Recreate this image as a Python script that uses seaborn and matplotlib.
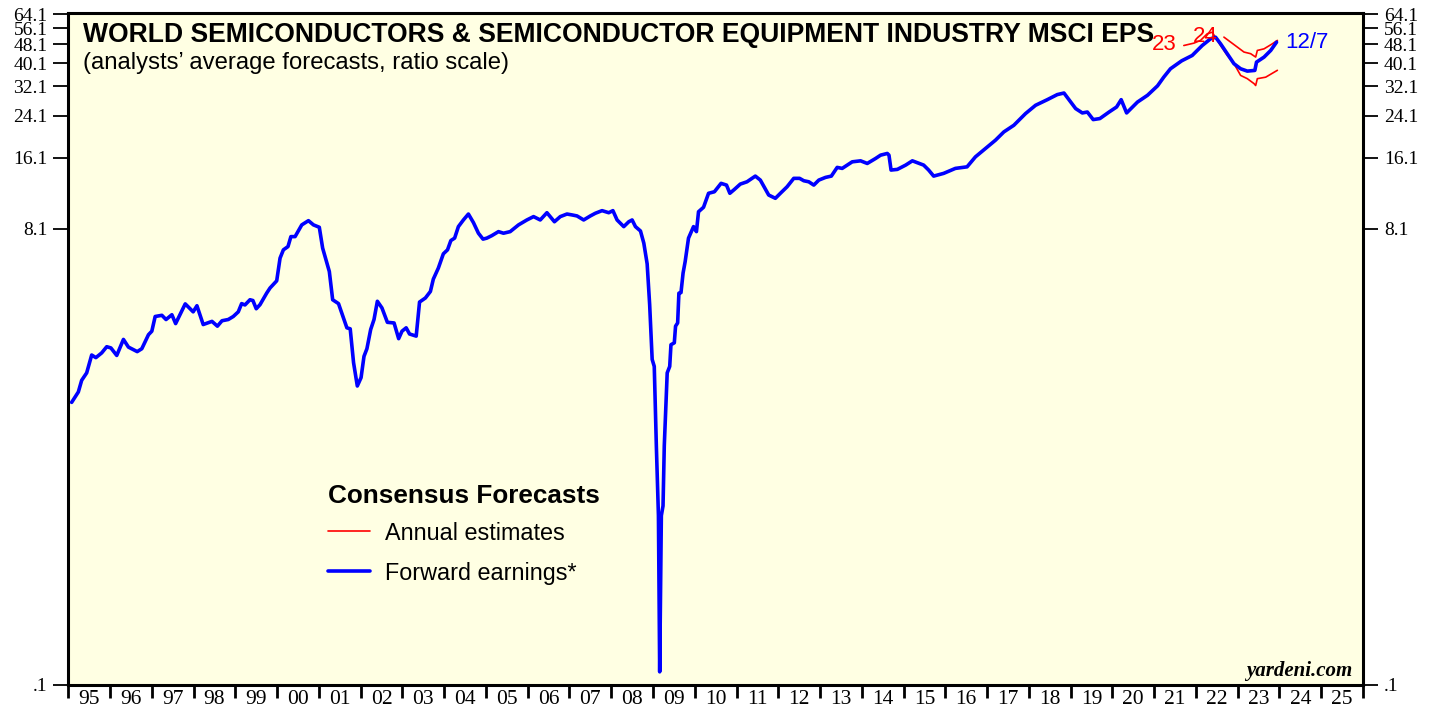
import matplotlib
matplotlib.use("Agg")
import matplotlib.pyplot as plt
import matplotlib.ticker as mticker
from matplotlib.lines import Line2D
import seaborn as sns

# -----------------------------
# Data (ratio scale)
# -----------------------------
fwd_year = [1995.08, 1995.24, 1995.32, 1995.44, 1995.56, 1995.66, 1995.80, 1995.92,
            1996.02, 1996.16, 1996.32, 1996.44, 1996.65, 1996.76, 1996.92,
            1997.00, 1997.08, 1997.24, 1997.34, 1997.48, 1997.57, 1997.80, 1997.99,
            1998.08, 1998.23, 1998.44, 1998.57, 1998.68, 1998.83, 1998.95,
            1999.07, 1999.15, 1999.23, 1999.35, 1999.42, 1999.50, 1999.59, 1999.75, 1999.83, 1999.99,
            2000.07, 2000.15, 2000.26, 2000.33, 2000.43, 2000.59, 2000.75, 2000.87,
            2001.01, 2001.09, 2001.25, 2001.33, 2001.47, 2001.67, 2001.75, 2001.83, 2001.92,
            2002.01, 2002.08, 2002.15, 2002.24, 2002.32, 2002.40, 2002.51, 2002.64, 2002.80, 2002.91,
            2002.99, 2003.09, 2003.17, 2003.33, 2003.41, 2003.55, 2003.67, 2003.74, 2003.86, 2003.98,
            2004.08, 2004.16, 2004.25, 2004.34, 2004.46, 2004.58, 2004.70, 2004.82, 2004.93,
            2005.02, 2005.14, 2005.30, 2005.42, 2005.58, 2005.78, 2005.98,
            2006.14, 2006.30, 2006.46, 2006.64, 2006.78, 2006.94,
            2007.06, 2007.18, 2007.34, 2007.50, 2007.62, 2007.78, 2007.94,
            2008.04, 2008.14, 2008.30, 2008.42, 2008.50, 2008.58, 2008.70, 2008.78, 2008.86, 2008.92, 2008.98,
            2009.03, 2009.08, 2009.13, 2009.16, 2009.20, 2009.24, 2009.27, 2009.34, 2009.40, 2009.43,
            2009.51, 2009.54, 2009.59, 2009.62, 2009.67, 2009.72, 2009.77, 2009.85, 2009.97,
            2010.04, 2010.09, 2010.21, 2010.33, 2010.47, 2010.63, 2010.76, 2010.84, 2010.95,
            2011.09, 2011.25, 2011.45, 2011.57, 2011.77, 2011.93,
            2012.05, 2012.21, 2012.37, 2012.51, 2012.61, 2012.73, 2012.85, 2012.97,
            2013.13, 2013.27, 2013.41, 2013.53, 2013.77, 2013.97,
            2014.13, 2014.33, 2014.45, 2014.61, 2014.65, 2014.70, 2014.85,
            2015.05, 2015.21, 2015.48, 2015.60, 2015.72, 2015.96,
            2016.24, 2016.52, 2016.72, 2016.96, 2017.20, 2017.40, 2017.64, 2017.92,
            2018.16, 2018.44, 2018.68, 2018.84, 2018.96,
            2019.12, 2019.28, 2019.40, 2019.54, 2019.70, 2019.92,
            2020.10, 2020.21, 2020.34, 2020.60, 2020.84,
            2021.08, 2021.23, 2021.39, 2021.66, 2021.91,
            2022.15, 2022.35, 2022.47, 2022.59, 2022.75, 2022.91,
            2023.07, 2023.23, 2023.41, 2023.45, 2023.63, 2023.79, 2023.93]
fwd_eps = [1.52, 1.68, 1.88, 2.02, 2.40, 2.34, 2.45, 2.60,
           2.57, 2.39, 2.79, 2.59, 2.48, 2.55, 2.92,
           3.02, 3.48, 3.52, 3.38, 3.54, 3.25, 3.93, 3.64,
           3.86, 3.22, 3.32, 3.17, 3.34, 3.38, 3.48,
           3.64, 3.94, 3.89, 4.09, 4.06, 3.75, 3.90, 4.36, 4.58, 4.91,
           6.11, 6.62, 6.83, 7.52, 7.52, 8.42, 8.77, 8.42,
           8.23, 6.73, 5.37, 4.09, 3.94, 3.12, 3.09, 2.23, 1.78,
           1.93, 2.37, 2.55, 3.07, 3.38, 4.03, 3.78, 3.29, 3.27, 2.81,
           3.02, 3.12, 2.94, 2.88, 4.00, 4.16, 4.43, 4.99, 5.55, 6.37,
           6.62, 7.24, 7.41, 8.28, 8.83, 9.35, 8.61, 7.77, 7.34,
           7.41, 7.59, 7.89, 7.77, 7.89, 8.42, 8.83,
           9.12, 8.83, 9.47, 8.68, 9.12, 9.35,
           9.27, 9.18, 8.83, 9.18, 9.42, 9.66, 9.47,
           9.66, 8.83, 8.28, 8.68, 8.83, 8.28, 7.94, 7.06, 5.78, 3.90, 2.30,
           2.15, 1.00, 0.51, 0.113, 0.51, 0.56, 1.00, 2.02, 2.15, 2.65,
           2.70, 3.17, 3.27, 4.36, 4.38, 5.29, 5.91, 7.41, 8.28,
           7.89, 9.56, 9.98, 11.42, 11.59, 12.57, 12.36, 11.42, 11.86,
           12.48, 12.76, 13.48, 12.97, 11.23, 10.88,
           11.42, 12.16, 13.19, 13.19, 12.89, 12.76, 12.36, 12.97,
           13.31, 13.48, 14.66, 14.52, 15.47, 15.62,
           15.23, 15.98, 16.50, 16.77, 16.50, 14.29, 14.38,
           14.99, 15.62, 14.99, 14.29, 13.48, 13.84,
           14.52, 14.74, 16.23, 17.60, 19.06, 20.64, 22.01, 24.64,
           26.69, 28.17, 29.59, 30.04, 28.17,
           25.85, 24.79, 25.01, 23.25, 23.48, 25.01,
           26.25, 28.17, 24.79, 27.53, 29.39,
           32.19, 35.03, 37.96, 41.00, 43.15,
           47.50, 50.68, 51.46, 48.29, 43.88, 39.86,
           37.96, 37.11, 37.36, 40.47, 42.47, 45.29, 49.06]

est23_year = [2021.71, 2021.95, 2022.11, 2022.27, 2022.39, 2022.47, 2022.59, 2022.75,
              2022.91, 2023.07, 2023.23, 2023.39, 2023.43, 2023.47, 2023.67, 2023.95]
est23_eps = [47.5, 48.6, 49.9, 53.2, 54.0, 51.3, 47.5, 43.2,
             39.9, 35.6, 34.5, 32.9, 32.3, 34.5, 35.0, 37.4]

est24_year = [2022.67, 2022.83, 2022.99, 2023.15, 2023.31, 2023.43, 2023.47, 2023.63, 2023.83, 2023.95]
est24_eps = [51.5, 49.1, 46.8, 44.6, 43.9, 42.5, 45.3, 46.0, 48.3, 49.9]

y_ticks = [0.1, 8.1, 16.1, 24.1, 32.1, 40.1, 48.1, 56.1, 64.1]
y_labels = [".1", "8.1", "16.1", "24.1", "32.1", "40.1", "48.1", "56.1", "64.1"]
years = list(range(1995, 2026))
year_labels = [f"{y % 100:02d}" for y in years]

# -----------------------------
# Style
# -----------------------------
sns.set_style("white")
plt.rcParams['font.family'] = ['Liberation Sans', 'DejaVu Sans']
plt.rcParams['text.color'] = 'black'
plt.rcParams['xtick.color'] = 'black'
plt.rcParams['ytick.color'] = 'black'
plt.rcParams['axes.labelcolor'] = 'black'

W, H = 1434, 717
fig = plt.figure(figsize=(W / 100, H / 100), dpi=100)
ax = fig.add_axes([68.3 / W, 1 - 684.5 / H, (1363 - 68.3) / W, (684.5 - 13) / H])
ax.set_facecolor("#ffffe3")

RED = "#ff0000"
BLUE = "#0000ff"

sns.lineplot(x=est23_year, y=est23_eps, ax=ax, color=RED, lw=1.2,
             sort=False, estimator=None, zorder=2)
sns.lineplot(x=est24_year, y=est24_eps, ax=ax, color=RED, lw=1.2,
             sort=False, estimator=None, zorder=2)
sns.lineplot(x=fwd_year, y=fwd_eps, ax=ax, color=BLUE, lw=2.6,
             sort=False, estimator=None, zorder=3)

ax.set_yscale("log")
ax.set_ylim(0.1, 65)
ax.set_xlim(1995, 2026)
ax.set_xlabel("")
ax.set_ylabel("")

# y axis on both sides
ax.yaxis.set_major_locator(mticker.FixedLocator(y_ticks))
ax.yaxis.set_major_formatter(mticker.FixedFormatter(y_labels))
ax.yaxis.set_minor_locator(mticker.NullLocator())
ax.tick_params(axis="y", which="major", left=True, right=True, labelleft=True,
               labelright=True, direction="out", length=11, width=1.3,
               labelsize=14, pad=4, colors="black")

# x axis: ticks at year boundaries, labels centred in each year
ax.xaxis.set_major_locator(mticker.FixedLocator(years + [2026]))
ax.xaxis.set_major_formatter(mticker.NullFormatter())
ax.xaxis.set_minor_locator(mticker.FixedLocator([y + 0.5 for y in years]))
ax.xaxis.set_minor_formatter(mticker.FixedFormatter(year_labels))
ax.tick_params(axis="x", which="major", bottom=True, direction="out",
               length=9, width=2.0, colors="black")
ax.tick_params(axis="x", which="minor", bottom=True, length=0, labelsize=15.5, pad=4,
               colors="black")

for lab in ax.get_yticklabels() + ax.get_xticklabels(minor=True):
    lab.set_fontfamily("Liberation Serif")

for sp in ax.spines.values():
    sp.set_visible(True)
    sp.set_color("black")
    sp.set_linewidth(2.2)


def px(x, y):
    return x / W, 1 - y / H


# titles
fig.text(*px(83, 42), "WORLD SEMICONDUCTORS & SEMICONDUCTOR EQUIPMENT INDUSTRY MSCI EPS",
         fontsize=19.1, fontweight="bold", ha="left", va="baseline", color="black")
fig.text(*px(83, 69), "(analysts\u2019 average forecasts, ratio scale)",
         fontsize=17.2, ha="left", va="baseline", color="black")

# series labels
fig.text(*px(1164, 45), "23", color=RED, fontsize=16, ha="center", va="center")
fig.text(*px(1205, 36), "24", color=RED, fontsize=16, ha="center", va="center")
fig.text(*px(1285, 42), "12/7", color=BLUE, fontsize=16, ha="left", va="center")

# legend
fig.text(*px(328, 503), "Consensus Forecasts", fontsize=18.8, fontweight="bold",
         ha="left", va="baseline", color="black")
fig.add_artist(Line2D([328 / W, 370 / W], [1 - 531 / H, 1 - 531 / H], color=RED, lw=1.2))
fig.add_artist(Line2D([328 / W, 370 / W], [1 - 571 / H, 1 - 571 / H], color=BLUE, lw=2.6))
fig.text(*px(385, 540), "Annual estimates", fontsize=16.8, ha="left", va="baseline",
         color="black")
fig.text(*px(385, 580), "Forward earnings*", fontsize=16.8, ha="left", va="baseline",
         color="black")

fig.text(*px(1352, 676), "yardeni.com", fontsize=15, fontweight="bold", fontstyle="italic",
         family="Liberation Serif", ha="right", va="baseline", color="black")

fig.savefig("out.png", dpi=100)
